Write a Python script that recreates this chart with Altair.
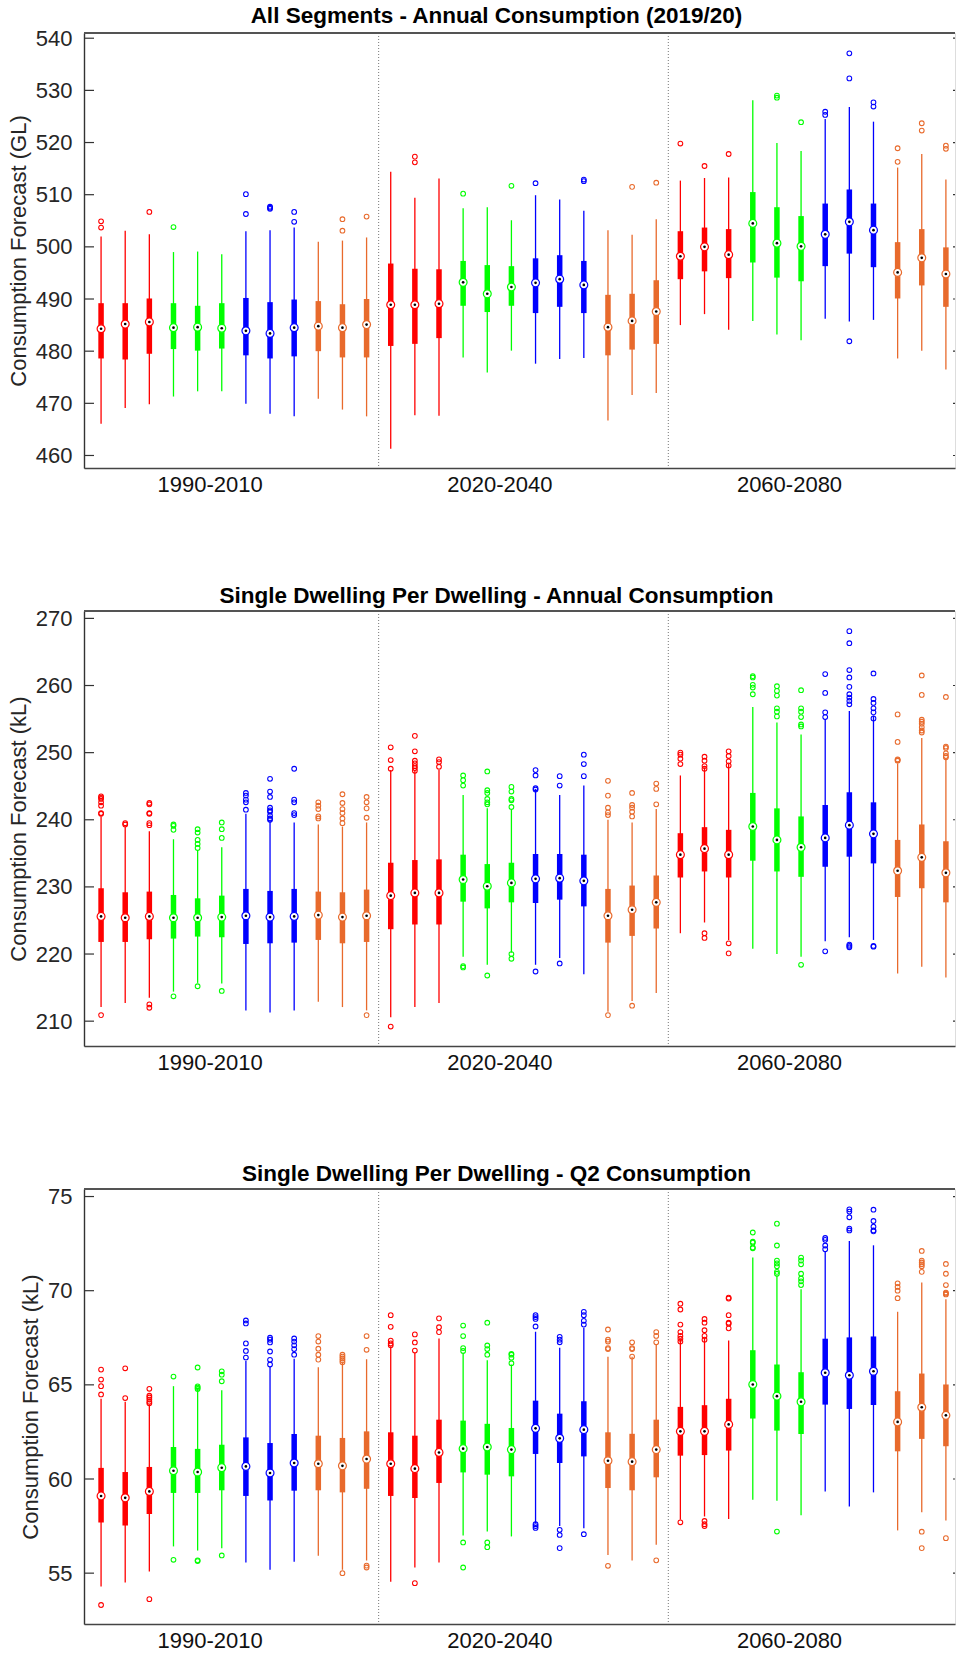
import altair as alt
import pandas as pd

# ---------------- data ----------------
periods = ["1990-2010", "2020-2040", "2060-2080"]
period_pos = [5.5, 17.5, 29.5]
separators = [12.5, 24.5]
group_colors = ["#FF0000", "#00FF00", "#0000FF", "#E86A2C"]

titles = [
    "All Segments - Annual Consumption (2019/20)",
    "Single Dwelling Per Dwelling - Annual Consumption",
    "Single Dwelling Per Dwelling - Q2 Consumption",
]
ytitles = ["Consumption Forecast (GL)", "Consumption Forecast (kL)", "Consumption Forecast (kL)"]
ydomains = [[457.6, 541.0], [206.3, 271.1], [52.3, 75.4]]
yticks = [
    [460, 470, 480, 490, 500, 510, 520, 530, 540],
    [210, 220, 230, 240, 250, 260, 270],
    [55, 60, 65, 70, 75],
]

# Panel 1
wlo1 = [466.1, 469.1, 469.8, 471.3, 472.3, 472.3, 469.9, 468.0, 467.5, 470.9, 468.8, 467.5,
        461.3, 467.7, 467.6, 478.8, 475.9, 480.1, 477.6, 478.5, 478.7, 466.7, 471.6, 472.0,
        485.0, 487.1, 484.1, 485.8, 483.2, 482.1, 486.2, 485.7, 486.0, 478.6, 480.1, 476.5]
q1_1 = [478.6, 478.4, 479.5, 480.4, 480.1, 480.5, 479.2, 478.6, 479.0, 480.0, 478.8, 478.8,
        481.0, 481.4, 482.5, 488.7, 487.5, 488.7, 487.3, 488.5, 487.3, 479.2, 480.3, 481.4,
        493.8, 495.3, 494.0, 497.0, 494.1, 493.4, 496.3, 498.7, 496.1, 490.1, 492.6, 488.5]
med1 = [484.3, 485.2, 485.6, 484.5, 484.6, 484.4, 483.9, 483.4, 484.5, 484.8, 484.5, 485.1,
        488.9, 488.9, 489.1, 493.2, 491.0, 492.3, 493.1, 493.8, 492.7, 484.6, 485.8, 487.6,
        498.2, 500.0, 498.5, 504.5, 500.7, 500.1, 502.4, 504.8, 503.2, 495.1, 497.9, 494.8]
q3_1 = [489.2, 489.2, 490.1, 489.2, 488.7, 489.2, 490.2, 489.4, 489.9, 489.6, 489.0, 490.0,
        496.8, 495.8, 495.7, 497.3, 496.5, 496.3, 497.8, 498.4, 497.3, 490.8, 491.0, 493.6,
        503.0, 503.7, 503.4, 510.5, 507.6, 505.9, 508.3, 511.0, 508.3, 500.9, 503.4, 499.9]
whi1 = [502.0, 503.1, 502.4, 499.0, 499.1, 498.6, 503.0, 503.2, 503.7, 501.0, 501.2, 501.8,
        514.4, 509.4, 513.1, 507.4, 507.6, 505.1, 509.9, 509.1, 506.9, 503.2, 502.3, 505.3,
        512.7, 513.2, 513.3, 528.1, 519.9, 518.4, 524.5, 526.8, 524.0, 515.2, 517.8, 512.9]
out1 = [[504.9, 503.7], [], [506.7], [503.8], [], [], [510.1, 506.3], [507.3, 507.5, 507.7],
        [506.7, 504.8], [], [503.1, 505.3], [505.8],
        [], [516.2, 517.3], [], [510.2], [], [511.7], [512.2], [], [512.6, 512.9], [], [511.5], [512.3],
        [519.8], [515.5], [517.8], [], [529.0, 528.6], [523.9], [525.9, 525.3], [537.1, 532.3, 481.9],
        [527.7, 526.9], [518.9, 516.3], [523.7, 522.3], [519.4, 518.8]]

# Panel 2
wlo2 = [212.1, 212.7, 213.5, 214.4, 215.7, 215.6, 211.6, 211.3, 211.6, 212.9, 212.1, 211.6,
        210.6, 212.1, 212.7, 219.6, 218.4, 220.2, 218.4, 219.4, 217.0, 211.4, 213.0, 214.2,
        223.1, 224.7, 222.1, 220.8, 220.0, 219.6, 221.9, 222.5, 222.1, 217.1, 218.1, 216.5]
q1_2 = [221.8, 221.8, 222.2, 222.3, 222.6, 222.5, 221.5, 221.6, 221.7, 222.1, 221.6, 221.8,
        223.7, 224.4, 224.4, 227.8, 226.8, 227.7, 227.6, 228.1, 227.1, 221.7, 222.7, 223.8,
        231.4, 232.3, 231.4, 233.9, 232.3, 231.5, 233.0, 234.5, 233.5, 228.5, 229.8, 227.7]
med2 = [225.6, 225.4, 225.6, 225.4, 225.4, 225.5, 225.7, 225.5, 225.6, 225.8, 225.5, 225.7,
        228.7, 229.1, 229.1, 231.1, 230.1, 230.6, 231.2, 231.3, 230.9, 225.7, 226.6, 227.7,
        234.8, 235.7, 234.8, 239.0, 237.0, 235.9, 237.3, 239.2, 237.9, 232.4, 234.4, 232.1]
q3_2 = [229.8, 229.2, 229.3, 228.8, 228.3, 228.7, 229.7, 229.4, 229.7, 229.3, 229.2, 229.6,
        233.6, 234.0, 234.1, 234.8, 233.4, 233.6, 234.9, 234.9, 234.8, 229.7, 230.2, 231.7,
        238.0, 238.9, 238.5, 244.0, 241.7, 240.5, 242.2, 244.1, 242.6, 237.0, 239.3, 236.8]
whi2 = [240.5, 239.0, 238.3, 237.1, 235.5, 235.9, 240.9, 240.0, 239.6, 239.3, 239.0, 239.6,
        247.4, 247.4, 247.4, 243.7, 241.7, 241.5, 244.6, 243.7, 245.1, 240.0, 239.6, 241.6,
        246.6, 247.8, 248.3, 256.8, 254.5, 252.7, 255.0, 256.2, 255.5, 248.4, 252.2, 249.1]
out2 = [[243.5, 243.3, 243.1, 242.6, 242.1, 241.0, 240.9, 210.9],
        [239.5, 239.3],
        [242.5, 242.3, 241.0, 240.9, 239.5, 239.2, 212.5, 212.0],
        [239.3, 239.1, 238.5, 213.7],
        [238.6, 238.1, 237.0, 236.4, 235.8, 215.2],
        [239.6, 238.6, 237.3, 214.5],
        [244.0, 243.6, 243.0, 242.6, 241.5],
        [246.1, 244.2, 243.4, 241.8, 241.4, 241.2, 240.6, 240.2, 240.0],
        [247.6, 243.0, 242.6, 241.0, 240.7],
        [242.6, 242.1, 241.6, 240.5, 240.2],
        [243.8, 242.5, 241.6, 241.0, 240.2, 239.5],
        [243.4, 242.6, 241.7, 240.3, 210.9],
        [250.8, 248.9, 247.6, 209.2],
        [252.5, 250.2, 248.8, 248.4, 248.0, 247.7, 247.3],
        [249.0, 248.6, 247.9],
        [246.6, 245.9, 245.1, 218.2, 218.0],
        [247.2, 244.4, 244.0, 243.1, 242.6, 242.3, 216.8],
        [244.9, 244.2, 243.1, 242.9, 241.9, 219.3, 220.0],
        [247.4, 246.6, 244.7, 244.5, 217.4],
        [246.5, 245.1, 218.6],
        [249.7, 248.3, 246.5],
        [245.8, 243.6, 241.8, 241.1, 240.7, 210.9],
        [244.0, 242.2, 241.8, 241.2, 240.5, 212.3],
        [245.4, 244.6, 242.3],
        [250.0, 249.7, 249.1, 248.3],
        [249.4, 248.8, 248.0, 247.6, 223.1, 222.4],
        [250.2, 249.5, 248.7, 248.1, 221.6, 220.1],
        [261.4, 261.2, 260.1, 259.7, 258.7],
        [259.9, 259.2, 258.5, 256.6, 256.1, 255.4],
        [259.3, 256.6, 256.1, 255.3, 254.2, 253.9, 218.4],
        [261.7, 258.9, 256.0, 255.3, 220.4],
        [268.1, 266.3, 262.3, 261.2, 259.8, 258.7, 258.2, 257.7, 257.2, 221.0, 221.2, 221.4],
        [261.8, 258.0, 257.4, 256.6, 256.0, 255.1, 221.2, 221.1],
        [255.7, 251.6, 249.0, 248.9, 248.8],
        [261.5, 258.6, 254.9, 254.6, 254.3, 253.8, 253.3, 253.0],
        [258.3, 250.9, 250.7, 249.9, 249.5, 249.3]]

# Panel 3
wlo3 = [54.29, 54.5, 55.09, 56.42, 56.2, 56.32, 55.56, 55.18, 55.6, 55.92, 55.18, 55.67,
        54.55, 55.3, 55.56, 57.0, 57.21, 56.95, 57.66, 57.5, 57.39, 55.97, 55.67, 56.51,
        57.84, 58.01, 57.87, 58.9, 58.85, 58.07, 59.34, 58.54, 59.29, 57.27, 58.24, 57.8]
q1_3 = [57.69, 57.53, 58.14, 59.26, 59.26, 59.4, 59.1, 58.86, 59.38, 59.4, 59.29, 59.48,
        59.1, 58.99, 59.79, 60.35, 60.23, 60.14, 61.33, 60.85, 61.2, 59.52, 59.4, 60.09,
        61.24, 61.27, 61.51, 63.21, 62.57, 62.39, 63.95, 63.72, 63.93, 61.47, 62.13, 61.74]
med3 = [59.1, 59.0, 59.34, 60.44, 60.37, 60.6, 60.67, 60.32, 60.85, 60.81, 60.7, 61.06,
        60.81, 60.55, 61.41, 61.61, 61.7, 61.56, 62.69, 62.16, 62.62, 60.97, 60.92, 61.56,
        62.53, 62.53, 62.9, 65.02, 64.4, 64.1, 65.64, 65.51, 65.72, 63.03, 63.81, 63.38]
q3_3 = [60.59, 60.37, 60.64, 61.7, 61.6, 61.82, 62.21, 61.91, 62.39, 62.3, 62.18, 62.53,
        62.48, 62.3, 63.15, 63.1, 62.93, 62.71, 64.16, 63.47, 64.13, 62.48, 62.4, 63.15,
        63.83, 63.92, 64.26, 66.84, 66.08, 65.67, 67.45, 67.52, 67.57, 64.66, 65.6, 65.02]
whi3 = [64.26, 64.1, 63.95, 64.93, 64.85, 64.71, 66.26, 65.99, 66.38, 65.94, 66.2, 66.36,
        67.05, 66.7, 67.46, 66.7, 66.31, 66.08, 67.82, 66.97, 68.03, 66.49, 66.49, 67.14,
        67.41, 67.5, 67.36, 71.76, 70.81, 70.07, 72.05, 72.64, 72.41, 68.88, 70.43, 69.54]
out3 = [[65.81, 65.28, 64.93, 64.49, 53.31],
        [65.88, 64.3],
        [64.79, 64.42, 64.33, 64.22, 64.1, 64.02, 53.62],
        [65.44, 55.71],
        [65.92, 64.92, 64.85, 64.78, 55.68, 55.64],
        [65.72, 65.54, 65.19, 55.94],
        [68.42, 68.26, 67.2, 66.8, 66.45],
        [67.5, 67.4, 67.25, 66.77, 66.33, 66.08],
        [67.46, 67.3, 67.1, 66.9, 66.6],
        [67.59, 67.3, 66.92, 66.6, 66.34],
        [66.6, 66.5, 66.4, 66.3, 66.2, 55.0],
        [67.59, 66.86, 55.4, 55.3],
        [68.7, 68.08, 67.35, 67.2, 67.1],
        [67.68, 67.25, 66.82, 54.47],
        [68.53, 68.06, 67.8],
        [68.15, 67.59, 66.95, 66.8, 56.63, 55.3],
        [68.3, 67.09, 66.9, 66.6, 56.63, 56.38],
        [66.65, 66.6, 66.44, 66.15],
        [68.7, 68.6, 68.5, 68.1, 57.6, 57.5, 57.4],
        [67.55, 67.4, 67.26, 57.3, 57.03, 56.33],
        [68.88, 68.7, 68.4, 68.2, 57.07],
        [67.94, 67.4, 67.3, 66.95, 66.9, 55.39],
        [67.26, 66.95, 66.9, 66.5],
        [67.8, 67.6, 67.26, 55.68],
        [69.31, 69.0, 68.2, 67.8, 67.6, 67.45, 67.3, 57.7],
        [68.5, 68.3, 67.9, 67.6, 67.4, 57.77, 57.6, 57.5],
        [69.63, 69.58, 68.7, 68.3, 68.25, 68.0],
        [73.09, 72.6, 72.55, 72.3, 72.25],
        [73.56, 72.4, 71.6, 71.45, 71.3, 71.0, 70.9, 57.21],
        [71.76, 71.6, 71.4, 70.9, 70.65, 70.5, 70.3],
        [72.8, 72.7, 72.4, 72.2],
        [74.32, 74.2, 73.9, 73.3, 73.2],
        [74.3, 73.7, 73.4, 73.2, 73.15],
        [70.39, 70.2, 70.0, 69.6],
        [72.11, 71.6, 71.4, 71.5, 71.3, 71.0, 57.2, 56.33],
        [71.42, 70.9, 70.3, 69.9, 69.85, 69.8, 56.86]]

panels = [
    (wlo1, q1_1, med1, q3_1, whi1, out1),
    (wlo2, q1_2, med2, q3_2, whi2, out2),
    (wlo3, q1_3, med3, q3_3, whi3, out3),
]

# ---------------- layout ----------------
W = 871
H = 435
FONT = "Liberation Sans"
xdomain = [0.5, 36.17]

label_expr = (
    f"datum.value == {period_pos[0]} ? '{periods[0]}' : "
    f"datum.value == {period_pos[1]} ? '{periods[1]}' : '{periods[2]}'"
)


def color_of(i):
    return group_colors[(i % 12) // 3]


def make_panel(k):
    wlo, q1, med, q3, whi, outs = panels[k]
    n = len(med)
    boxes = pd.DataFrame({
        "x": list(range(1, n + 1)),
        "lo": wlo, "q1": q1, "med": med, "q3": q3, "hi": whi,
        "col": [color_of(i) for i in range(n)],
    })
    orows = []
    for i, lst in enumerate(outs):
        for v in lst:
            orows.append({"x": i + 1, "v": v, "col": color_of(i)})
    outdf = pd.DataFrame(orows)
    ticks = pd.DataFrame({"t": yticks[k]})
    seps = pd.DataFrame({"s": separators})

    xs = alt.Scale(domain=xdomain, nice=False, zero=False)
    ys = alt.Scale(domain=ydomains[k], nice=False, zero=False)
    xaxis = alt.Axis(values=period_pos, labelExpr=label_expr, tickSize=0, grid=False,
                     labelFontSize=22, labelFont=FONT, labelColor="#111111", labelPadding=6,
                     domainColor="#444444", domainWidth=1.4, title=None, labelFlush=False)
    yaxis = alt.Axis(values=yticks[k], tickSize=0, grid=False, labelFontSize=22, labelFont=FONT,
                     labelColor="#262626", labelPadding=12, title=ytitles[k], titleFontSize=22,
                     titleFont=FONT, titleFontWeight="normal", titleColor="#262626", titlePadding=5,
                     domainColor="#333333", domainWidth=1.4)

    whisk = alt.Chart(boxes).mark_rule(strokeWidth=1.3, clip=True).encode(
        x=alt.X("x:Q", scale=xs, axis=xaxis),
        y=alt.Y("lo:Q", scale=ys, axis=yaxis),
        y2="hi:Q",
        color=alt.Color("col:N", scale=None),
    )
    box = alt.Chart(boxes).mark_bar(size=5.5, clip=True).encode(
        x="x:Q", y="q1:Q", y2="q3:Q", color=alt.Color("col:N", scale=None)
    )
    medc = alt.Chart(boxes).mark_point(shape="circle", size=62, fill="white", fillOpacity=1,
                                       strokeWidth=1.2, opacity=1, clip=True).encode(
        x="x:Q", y="med:Q", stroke=alt.Stroke("col:N", scale=None)
    )
    medd = alt.Chart(boxes).mark_point(shape="circle", size=7, filled=True, color="black",
                                       opacity=1, clip=True).encode(x="x:Q", y="med:Q")
    outl = alt.Chart(outdf).mark_point(shape="circle", size=22, strokeWidth=1.1, filled=False,
                                       opacity=1, clip=True).encode(
        x="x:Q", y="v:Q", color=alt.Color("col:N", scale=None)
    )
    sep = alt.Chart(seps).mark_rule(color="#777777", strokeWidth=1, strokeDash=[1, 2]).encode(
        x="s:Q"
    )
    lt = alt.Chart(ticks).mark_rule(color="#333333", strokeWidth=1.2).encode(
        x=alt.value(0), x2=alt.value(10), y="t:Q"
    )
    rt = alt.Chart(ticks).mark_rule(color="#333333", strokeWidth=1.2).encode(
        x=alt.value(W - 2), x2=alt.value(W), y="t:Q"
    )
    top = alt.Chart(ticks).mark_rule(color="#555555", strokeWidth=1.4).encode(
        x=alt.value(0), x2=alt.value(W), y=alt.value(0)
    )
    return alt.layer(sep, whisk, box, medc, medd, outl, lt, rt, top).properties(
        width=W, height=H,
        title=alt.TitleParams(titles[k], fontSize=22.5, font=FONT, fontWeight="bold",
                              color="black", dx=-23, offset=0, anchor="middle"),
    )


chart = alt.vconcat(*[make_panel(k) for k in range(3)], spacing=88).properties(
    padding={"left": 6, "top": 4, "right": 0, "bottom": 0}
).configure_view(stroke=None).configure(background="white")

chart.save("out.html", embed_options={"renderer": "svg", "actions": False})
